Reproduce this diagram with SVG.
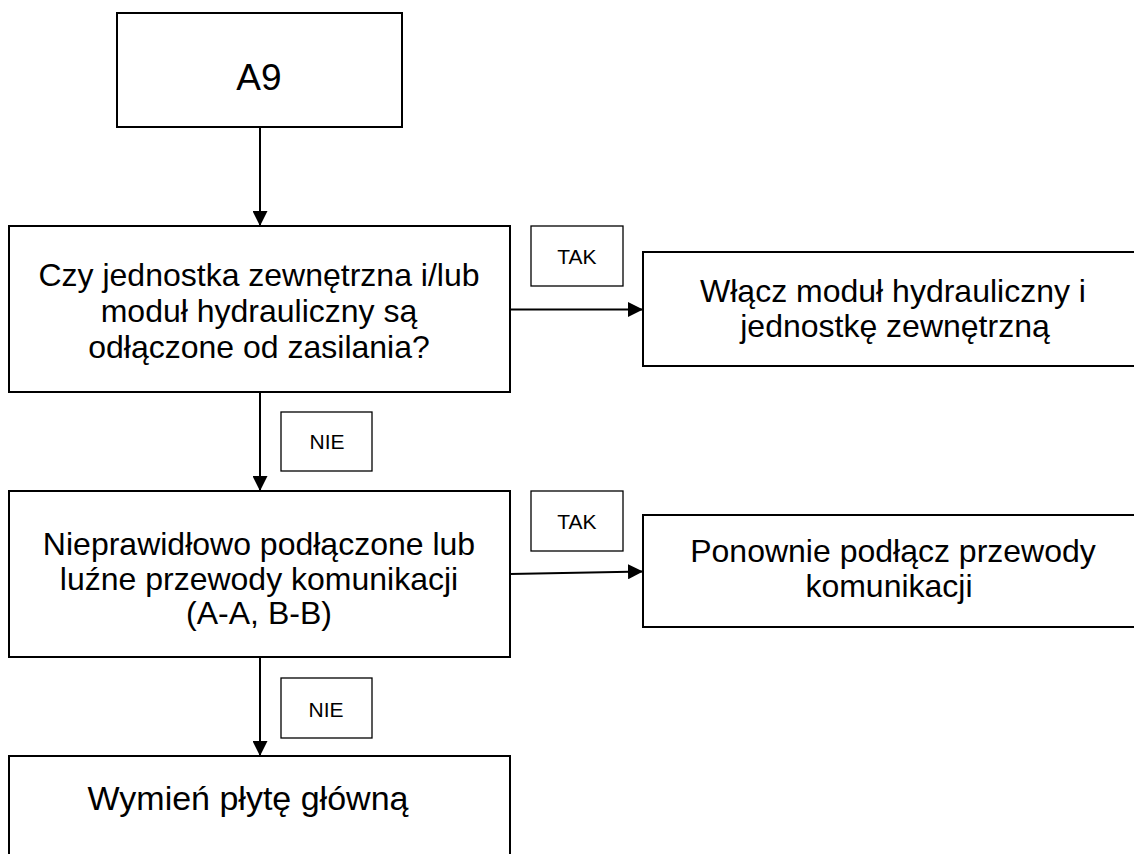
<svg xmlns="http://www.w3.org/2000/svg" width="1134" height="854" viewBox="0 0 1134 854">
<defs>
<style>
.box{fill:#fff;stroke:#000;stroke-width:2}
.lbl{fill:#fff;stroke:#000;stroke-width:1.3}
.t{font-family:"Liberation Sans",Arial,sans-serif;font-size:32px;fill:#000;text-anchor:middle}
.s{font-family:"Liberation Sans",Arial,sans-serif;font-size:21px;fill:#000;text-anchor:middle}
.c{fill:none;stroke:#000;stroke-width:2;marker-end:url(#ah)}
</style>
<marker id="ah" markerUnits="userSpaceOnUse" markerWidth="15" markerHeight="15" refX="15" refY="7.5" orient="auto">
<path d="M0,0 L15,7.5 L0,15 z" fill="#000"/>
</marker>
</defs>
<rect width="1134" height="854" fill="#fff"/>
<g id="connectors">
<line class="c" x1="260" y1="127" x2="260" y2="226"/>
<line class="c" x1="510" y1="309.5" x2="643" y2="309.5"/>
<line class="c" x1="260" y1="392" x2="260" y2="491"/>
<line class="c" x1="510" y1="574" x2="643" y2="571.5"/>
<line class="c" x1="260" y1="657" x2="260" y2="756"/>
</g>
<g id="a9">
<rect class="box" x="117" y="13" width="285" height="114"/>
<text class="t" x="259" y="90" style="font-size:37px">A9</text>
</g>
<g id="q1">
<rect class="box" x="9" y="226" width="501" height="166"/>
<text class="t" x="259" y="286">Czy jednostka zewnętrzna i/lub</text>
<text class="t" x="259" y="322">moduł hydrauliczny są</text>
<text class="t" x="259" y="358">odłączone od zasilania?</text>
</g>
<g id="tak1">
<rect class="lbl" x="531" y="226" width="92" height="60"/>
<text class="s" x="577" y="264">TAK</text>
</g>
<g id="r1">
<rect class="box" x="643" y="252" width="510" height="114"/>
<text class="t" x="893" y="302">Włącz moduł hydrauliczny i</text>
<text class="t" x="895" y="337">jednostkę zewnętrzną</text>
</g>
<g id="nie1">
<rect class="lbl" x="281" y="412" width="91" height="59"/>
<text class="s" x="327" y="449">NIE</text>
</g>
<g id="q2">
<rect class="box" x="9" y="491" width="501" height="166"/>
<text class="t" x="259" y="555">Nieprawidłowo podłączone lub</text>
<text class="t" x="259" y="590">luźne przewody komunikacji</text>
<text class="t" x="259" y="624">(A-A, B-B)</text>
</g>
<g id="tak2">
<rect class="lbl" x="531" y="491" width="92" height="60"/>
<text class="s" x="577" y="529">TAK</text>
</g>
<g id="r2">
<rect class="box" x="643" y="515" width="510" height="112"/>
<text class="t" x="893" y="562">Ponownie podłącz przewody</text>
<text class="t" x="889" y="597">komunikacji</text>
</g>
<g id="nie2">
<rect class="lbl" x="281" y="678" width="91" height="60"/>
<text class="s" x="326" y="717">NIE</text>
</g>
<g id="end">
<rect class="box" x="9" y="756" width="501" height="120"/>
<text class="t" x="248" y="810" style="font-size:34px">Wymień płytę główną</text>
</g>
</svg>
